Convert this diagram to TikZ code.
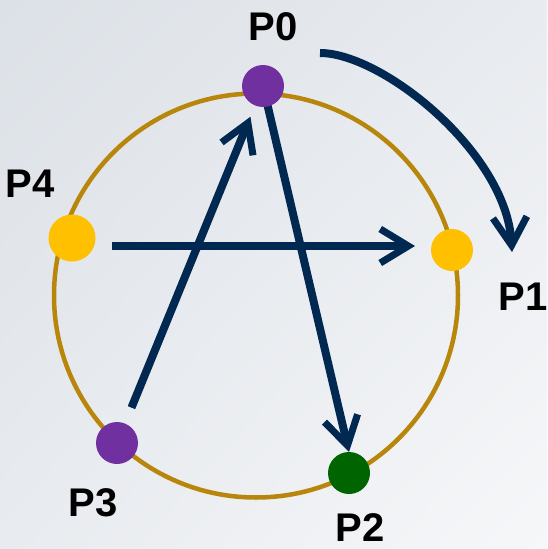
\documentclass[tikz,border=0pt]{standalone}
\usepackage{fontspec}
\setmainfont{Liberation Sans}
\usetikzlibrary{arrows.meta,calc,shadings}
\definecolor{bgA}{HTML}{DCE1E7}
\definecolor{bgB}{HTML}{E8EBEF}
\definecolor{bgC}{HTML}{F6F7F9}
\definecolor{ringc}{HTML}{B8860B}
\definecolor{purp}{HTML}{7030A0}
\definecolor{yel}{HTML}{FFC000}
\definecolor{grn}{HTML}{006400}
\definecolor{navy}{RGB}{0,40,80}
\begin{document}
\begin{tikzpicture}[x=1pt,y=-1pt,
  dot/.style={circle,inner sep=0pt,minimum size=42pt},
  lbl/.style={font=\bfseries\fontsize{40}{40}\selectfont,inner sep=0pt},
  arr/.style={navy,line width=8pt,-{Straight Barb[length=28pt,width=34pt,line width=7pt]}}]
\useasboundingbox (0,0) rectangle (547,549);
\shade[upper left=bgA,upper right=bgB,lower left=bgB,lower right=bgC] (0,0) rectangle (547,549);
\draw[ringc,line width=4.5pt] (256,295.5) circle[radius=202];
% arrows first (under dots)
\coordinate (c0) at (263,86);
\coordinate (c2) at (349,473);
\draw[arr] (c0) -- ($(c2)+(0,-21)$);
\node[dot,fill=purp] (P0) at (263,86) {};
\node[dot,fill=yel] (P1) at (452,250) {};
\node[dot,fill=grn] (P2) at (349,473) {};
\node[dot,fill=purp] (P3) at (117,443) {};
\node[dot,fill=yel,minimum size=47pt] (P4) at (72,238) {};
\draw[arr,shorten <=17pt,shorten >=12pt] (P3) -- (P0);
\draw[arr] ([shift={(40,8)}]P4.center) -- ([shift={(-37,-4)}]P1.center);
\draw[arr] ([shift={(57,-33)}]P0.center) .. controls +(62,0) and +(-6,-100) .. ([shift={(60,2)}]P1.center);
\node[lbl] (L0) at (273,27) {P0};
\node[lbl] (L1) at (523,297) {P1};
\node[lbl] (L2) at (360,528) {P2};
\node[lbl] (L3) at (93,503) {P3};
\node[lbl] (L4) at (30,184) {P4};
\end{tikzpicture}
\end{document}
